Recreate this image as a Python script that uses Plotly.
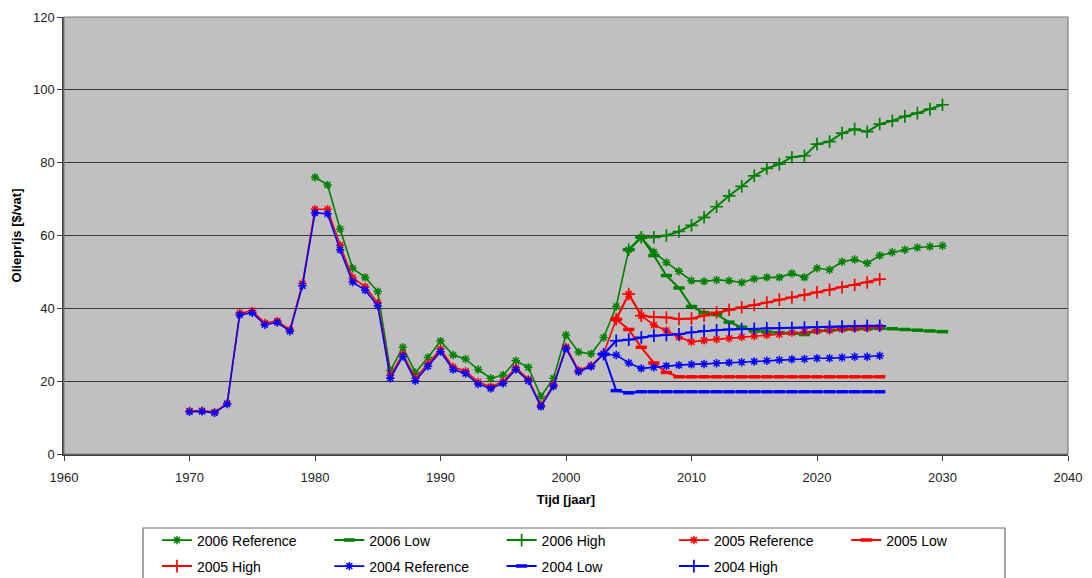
import plotly.graph_objects as go

# ---- data -----------------------------------------------------------------
years_2004 = list(range(1970, 2026))
ref_2004 = [11.6, 11.7, 11.3, 13.7, 38.2, 38.8, 35.5, 36.1, 33.7, 46.2,
            66.2, 66.0, 56.1, 47.2, 45.0, 40.7, 20.8, 26.8, 20.1, 24.1,
            28.1, 23.2, 22.1, 19.2, 18.0, 19.4, 23.2, 20.1, 13.0, 18.6,
            29.0, 22.6, 24.0, 27.4, 27.2, 25.0, 23.5, 23.8, 24.2, 24.4,
            24.6, 24.7, 24.9, 25.1, 25.2, 25.4, 25.6, 25.8, 26.0, 26.1,
            26.3, 26.3, 26.5, 26.7, 26.7, 27.0]
years_2004_scen = list(range(2003, 2026))
low_2004 = [27.4, 17.4, 16.8] + [17.1] * 20
high_2004 = [27.4, 31.1, 31.4, 32.0, 32.5, 32.7, 32.9, 33.4, 33.8, 34.0,
             34.2, 34.3, 34.4, 34.5, 34.5, 34.6, 34.7, 34.8, 34.9, 35.0,
             35.1, 35.2, 35.2]

years_2005 = list(range(1970, 2026))
ref_2005 = [11.8, 11.9, 11.5, 13.9, 38.7, 39.3, 36.0, 36.5, 34.1, 46.8,
            67.2, 67.2, 57.3, 48.4, 45.9, 41.5, 21.6, 27.4, 20.8, 24.8,
            28.8, 23.9, 22.7, 19.8, 18.5, 19.9, 23.7, 20.5, 13.4, 19.0,
            29.4, 23.0, 24.3, 27.6, 37.0, 43.9, 38.0, 35.4, 33.9, 32.1,
            30.8, 31.2, 31.5, 31.8, 32.1, 32.4, 32.7, 32.9, 33.3, 33.6,
            33.8, 34.0, 34.3, 34.5, 34.6, 34.8]
years_2005_scen = list(range(2004, 2026))
low_2005 = [37.0, 34.2, 29.3, 25.0, 22.4, 21.2] + [21.2] * 16
high_2005 = [37.0, 43.9, 38.0, 37.6, 37.5, 37.1, 37.2, 38.0, 38.9, 39.6,
             40.3, 40.9, 41.6, 42.4, 43.0, 43.7, 44.4, 45.1, 45.8, 46.4,
             47.1, 48.0]

years_2006 = list(range(1980, 2031))
ref_2006 = [76.0, 73.9, 61.8, 51.0, 48.5, 44.6, 22.9, 29.3, 22.4, 26.5,
            31.0, 27.2, 26.1, 23.2, 20.8, 21.7, 25.6, 23.8, 15.8, 20.8,
            32.7, 28.0, 27.5, 32.0, 40.5, 56.1, 59.5, 55.5, 52.6, 50.2,
            47.6, 47.4, 47.8, 47.6, 47.1, 48.1, 48.5, 48.5, 49.6, 48.5,
            51.0, 50.6, 52.8, 53.4, 52.4, 54.5, 55.4, 56.1, 56.7, 57.0,
            57.2]
years_2006_scen = list(range(2005, 2031))
low_2006 = [56.1, 59.5, 54.5, 49.0, 45.6, 40.5, 38.8, 38.3, 36.2, 34.8,
            33.8, 33.5, 33.3, 33.2, 32.8, 33.8, 34.0, 34.2, 34.3, 34.4,
            34.5, 34.4, 34.2, 34.0, 33.8, 33.6]
high_2006 = [56.1, 59.5, 59.5, 60.0, 61.1, 62.8, 65.0, 67.9, 70.9, 73.5,
             76.4, 78.4, 79.6, 81.5, 81.9, 85.1, 85.8, 88.1, 89.2, 88.5,
             90.6, 91.5, 92.7, 93.6, 94.7, 95.9]

x_ticks = [1960, 1970, 1980, 1990, 2000, 2010, 2020, 2030, 2040]
y_ticks = [0, 20, 40, 60, 80, 100, 120]

GREEN, RED, BLUE = "#008000", "#FF0000", "#0000FF"

# ---- figure geometry (pixels) ---------------------------------------------
W, H = 1092, 578
L, R, T, B = 64, 1068, 17, 454


def px_x(px):
    return (px - L) / (R - L)


def px_y(py):
    return (B - py) / (B - T)


def marker_style(kind, color):
    if kind == "ref":
        return dict(symbol="asterisk", size=7, color=color,
                    line=dict(width=1.5, color=color))
    if kind == "low":
        return dict(symbol="line-ew", size=8, color=color,
                    line=dict(width=3.5, color=color))
    return dict(symbol="cross-thin", size=9, color=color,
                line=dict(width=1.7, color=color))


series = [
    ("2006 Reference", years_2006, ref_2006, GREEN, "ref", "legend"),
    ("2006 Low", years_2006_scen, low_2006, GREEN, "low", "legend"),
    ("2006 High", years_2006_scen, high_2006, GREEN, "high", "legend"),
    ("2005 Reference", years_2005, ref_2005, RED, "ref", "legend"),
    ("2005 Low", years_2005_scen, low_2005, RED, "low", "legend"),
    ("2005 High", years_2005_scen, high_2005, RED, "high", "legend2"),
    ("2004 Reference", years_2004, ref_2004, BLUE, "ref", "legend2"),
    ("2004 Low", years_2004_scen, low_2004, BLUE, "low", "legend2"),
    ("2004 High", years_2004_scen, high_2004, BLUE, "high", "legend2"),
]

fig = go.Figure()
for name, xs, ys, color, kind, leg in series:
    fig.add_trace(go.Scatter(
        x=xs, y=ys, name=name, mode="lines+markers",
        line=dict(color=color, width=1.6 if kind == "ref" else 2),
        marker=marker_style(kind, color),
        legend=leg,
        cliponaxis=False,
    ))

font_main = "Liberation Sans, Arial, sans-serif"
legend_common = dict(
    orientation="h", xanchor="left", yanchor="top",
    x=px_x(157), entrywidth=127.3, entrywidthmode="pixels",
    bgcolor="rgba(0,0,0,0)", borderwidth=0,
    font=dict(family=font_main, size=14, color="#000000"),
    itemclick=False, itemdoubleclick=False,
)

fig.update_layout(
    width=W, height=H,
    margin=dict(l=L, r=W - R, t=T, b=H - B, autoexpand=False),
    paper_bgcolor="white",
    plot_bgcolor="#C0C0C0",
    font=dict(family=font_main, size=13, color="#222222"),
    showlegend=True,
    legend=dict(legend_common, y=px_y(524.5)),
    legend2=dict(legend_common, y=px_y(550.5)),
    xaxis=dict(
        range=[1960, 2040], tickvals=x_ticks, ticktext=[str(v) for v in x_ticks],
        showgrid=False, zeroline=False,
        showline=True, linecolor="#404040", linewidth=1.5,
        ticks="outside", ticklen=5, tickcolor="#404040", tickwidth=1,
        ticklabelstandoff=6,
        tickfont=dict(family=font_main, size=13, color="#222222"),
        title=dict(text="<b>Tijd [jaar]</b>", standoff=11,
                   font=dict(family=font_main, size=13, color="#000000")),
    ),
    yaxis=dict(
        range=[0, 120], tickvals=y_ticks,
        showgrid=True, gridcolor="#3a3a3a", gridwidth=1.3,
        zeroline=False,
        showline=True, linecolor="#404040", linewidth=1.5,
        ticks="outside", ticklen=5, tickcolor="#404040", tickwidth=1,
        tickfont=dict(family=font_main, size=13, color="#222222"),
        title=dict(text="<b>Olieprijs [$/vat]</b>", standoff=8,
                   font=dict(family=font_main, size=13, color="#000000")),
    ),
    shapes=[
        # plot-area frame
        dict(type="rect", xref="paper", yref="paper", x0=0, x1=1, y0=0, y1=1,
             line=dict(color="#808080", width=1.2), layer="above"),
        # legend box
        dict(type="rect", xref="paper", yref="paper",
             x0=px_x(143), x1=px_x(1005), y0=px_y(528), y1=px_y(600),
             line=dict(color="#6a6a6a", width=1.2)),
    ],
)

fig.write_html("out.html")
